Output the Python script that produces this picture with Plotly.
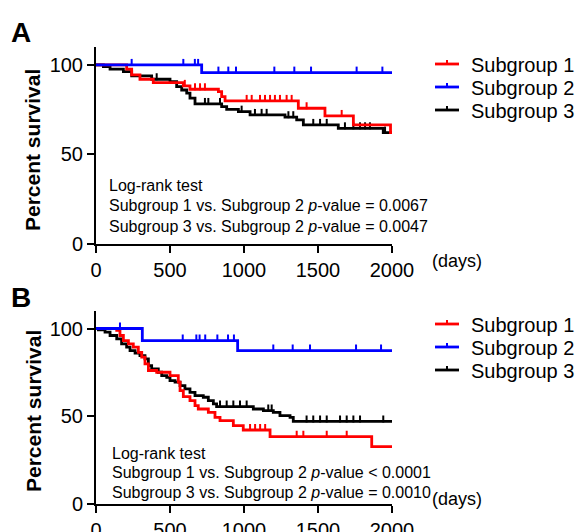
import numpy as np
import plotly.graph_objects as go

# ---------------- data ----------------
# Panel A
A_red_t = [0, 207, 241, 297, 387, 590, 635, 827, 849, 872, 1367, 1547, 1739, 1990, 2000]
A_red_s = [100, 97.6, 94.4, 92.0, 90.1, 88.3, 86.4, 85.1, 82.3, 79.9, 75.8, 71.5, 66.5, 62.2, 62.2]
A_red_c = [600, 669, 703, 736, 1018, 1052, 1108, 1142, 1176, 1209, 1243, 1288, 1322, 1423, 1660]

A_blue_t = [0, 714, 2000]
A_blue_s = [100, 95.7, 95.7]
A_blue_c = [241, 590, 668, 690, 827, 894, 946, 1205, 1340, 1453, 1761, 1935]

A_black_t = [0, 50, 95, 185, 241, 376, 500, 545, 579, 613, 635, 669, 849, 883, 962, 1041,
             1277, 1356, 1401, 1637, 1941, 2000]
A_black_s = [100, 99.1, 97.6, 96.3, 93.9, 92.0, 90.7, 87.9, 86.0, 84.2, 81.4, 78.2, 76.7, 75.2,
             73.9, 72.1, 70.8, 69.3, 66.5, 64.6, 62.2, 62.2]
A_black_c = [410, 736, 759, 838, 984, 1074, 1119, 1153, 1300, 1333, 1468, 1514, 1559, 1682,
             1739, 1784, 1818, 1851, 1953]

# Panel B
B_red_t = [0, 140, 162, 185, 219, 252, 286, 309, 331, 354, 410, 500, 556, 568, 590, 635, 669,
           691, 759, 804, 838, 928, 995, 1176, 1863, 2000]
B_red_s = [100, 98.9, 96.0, 93.1, 91.2, 89.3, 86.4, 83.6, 79.8, 76.0, 75.0, 73.1, 69.3, 64.5,
           61.1, 58.8, 55.9, 54.0, 52.1, 49.2, 47.3, 44.5, 42.0, 38.2, 32.5, 32.5]
B_red_c = [1041, 1075, 1109, 1143, 1356, 1401, 1559, 1694]

B_blue_t = [0, 313, 957, 2000]
B_blue_s = [100, 93.1, 87.4, 87.4]
B_blue_c = [162, 586, 678, 700, 738, 820, 892, 932, 1198, 1329, 1446, 1757, 1926]

B_black_t = [0, 16, 61, 95, 140, 173, 207, 230, 264, 297, 331, 354, 376, 421, 444, 478, 500,
             534, 568, 601, 635, 669, 725, 759, 793, 815, 1063, 1131, 1198, 1243, 1311, 1333, 2000]
B_black_s = [100, 99.2, 97.9, 96.0, 94.1, 91.2, 89.3, 87.4, 85.9, 84.5, 82.6, 78.8, 76.9, 75.0,
             73.1, 72.1, 70.2, 69.3, 67.4, 65.5, 63.5, 61.6, 60.7, 58.8, 56.9, 55.4, 54.0, 53.1,
             52.1, 50.2, 49.2, 46.9, 46.9]
B_black_c = [838, 883, 928, 973, 1018, 1164, 1187, 1423, 1468, 1514, 1559, 1649, 1694, 1739,
             1784, 1941]

group_names = ["Subgroup 1", "Subgroup 2", "Subgroup 3"]
group_colors = ["#ff0000", "#0000ff", "#000000"]
x_ticks = [0, 500, 1000, 1500, 2000]
y_ticks = [0, 50, 100]
y_title = "Percent survival"
x_unit = "(days)"
panel_labels = ["A", "B"]

panel_A_text = ["Log-rank test",
                "Subgroup 1 vs. Subgroup 2 <i>p</i>-value = 0.0067",
                "Subgroup 3 vs. Subgroup 2 <i>p</i>-value = 0.0047"]
panel_B_text = ["Log-rank test",
                "Subgroup 1 vs. Subgroup 2 <i>p</i>-value < 0.0001",
                "Subgroup 3 vs. Subgroup 2 <i>p</i>-value = 0.0010"]

FONT = "Liberation Sans, Arial, Helvetica, sans-serif"
W, H = 584, 532
Y_MAX = 110

# layout geometry in pixels (top-left origin)
X0, X1 = 96, 392
PANELS_PX = [(47, 244), (311, 503.5)]  # (top, bottom) of each plot area
TICK_PX = 5  # censor tick height
LW = 2.8


def px_x(p):
    return p / W


def px_y(p):
    return 1 - p / H


fig = go.Figure()

panel_groups = [
    [(A_red_t, A_red_s, A_red_c), (A_blue_t, A_blue_s, A_blue_c), (A_black_t, A_black_s, A_black_c)],
    [(B_red_t, B_red_s, B_red_c), (B_blue_t, B_blue_s, B_blue_c), (B_black_t, B_black_s, B_black_c)],
]
axis_ids = [("x", "y"), ("x2", "y2")]

for pi, groups in enumerate(panel_groups):
    xa, ya = axis_ids[pi]
    top, bot = PANELS_PX[pi]
    unit_px = (bot - top) / Y_MAX
    for gi in [2, 0, 1]:
        t, s, c = groups[gi]
        fig.add_trace(go.Scatter(
            x=t, y=s, mode="lines", line=dict(shape="hv", color=group_colors[gi], width=LW),
            name=group_names[gi], xaxis=xa, yaxis=ya, showlegend=False, hoverinfo="x+y+name",
        ))
        ta = np.asarray(t, float)
        sa = np.asarray(s, float)
        ca = np.asarray(c, float)
        cs = sa[np.searchsorted(ta, ca, side="right") - 1]
        # tick drawn upward from the curve
        fig.add_trace(go.Scatter(
            x=ca, y=cs + (TICK_PX / 2) / unit_px, mode="markers",
            marker=dict(symbol="line-ns", size=TICK_PX, color=group_colors[gi],
                        line=dict(width=2, color=group_colors[gi])),
            name=group_names[gi] + " (censored)", xaxis=xa, yaxis=ya, showlegend=False,
            hoverinfo="skip",
        ))

axis_common = dict(showline=True, linecolor="black", linewidth=2, ticks="outside",
                   ticklen=7, tickwidth=2, tickcolor="black", showgrid=False, zeroline=False,
                   automargin=False,
                   tickfont=dict(family=FONT, size=20, color="black"), fixedrange=True)

x_dom = [px_x(X0), px_x(X1)]
yA_dom = [px_y(PANELS_PX[0][1]), px_y(PANELS_PX[0][0])]
yB_dom = [px_y(PANELS_PX[1][1]), px_y(PANELS_PX[1][0])]

fig.update_layout(
    width=W, height=H, autosize=False,
    margin=dict(l=0, r=0, t=0, b=0, pad=0),
    paper_bgcolor="white", plot_bgcolor="white",
    font=dict(family=FONT, color="black"),
    showlegend=False,
    xaxis=dict(domain=x_dom, range=[0, 2000], tickvals=x_ticks, anchor="y", **axis_common),
    yaxis=dict(domain=yA_dom, range=[0, Y_MAX], tickvals=y_ticks, anchor="x", **axis_common),
    xaxis2=dict(domain=x_dom, range=[0, 2000], tickvals=x_ticks, anchor="y2", **axis_common),
    yaxis2=dict(domain=yB_dom, range=[0, Y_MAX], tickvals=y_ticks, anchor="x2", **axis_common),
)

ann = []
shapes = []


def text(t, x, y, size, xanchor="center", yanchor="middle", angle=0):
    ann.append(dict(text=t, x=px_x(x), y=px_y(y), xref="paper", yref="paper",
                    xanchor=xanchor, yanchor=yanchor, showarrow=False, textangle=angle,
                    font=dict(family=FONT, size=size, color="black")))


# panel letters
text("<b>%s</b>" % panel_labels[0], 21, 32, 28)
text("<b>%s</b>" % panel_labels[1], 21, 297, 28)
# y titles
text("<b>%s</b>" % y_title, 33, 150, 21, angle=-90)
text("<b>%s</b>" % y_title, 33, 411, 21, angle=-90)
# (days)
text(x_unit, 457, 261, 18)
text(x_unit, 457, 499, 18)
# log-rank text
for i, line in enumerate(panel_A_text):
    text(line, 107, 185 + 20.5 * i, 16, xanchor="left")
for i, line in enumerate(panel_B_text):
    text(line, 110, 453 + 19.5 * i, 16, xanchor="left")

# legends (drawn manually: short line with a censor tick + label)
for top_y in (64, 324):
    for gi, name in enumerate(group_names):
        yy = top_y + 23 * gi
        shapes.append(dict(type="line", xref="paper", yref="paper",
                           x0=px_x(435), x1=px_x(459), y0=px_y(yy), y1=px_y(yy),
                           line=dict(color=group_colors[gi], width=LW)))
        shapes.append(dict(type="line", xref="paper", yref="paper",
                           x0=px_x(447), x1=px_x(447), y0=px_y(yy), y1=px_y(yy - 4),
                           line=dict(color=group_colors[gi], width=2)))
        text(name, 469, yy + 1, 20, xanchor="left")

fig.update_layout(annotations=ann, shapes=shapes)

fig.write_html("out.html", config={"displayModeBar": False},
               post_script="document.body.style.margin='0';document.body.style.overflow='hidden';")
